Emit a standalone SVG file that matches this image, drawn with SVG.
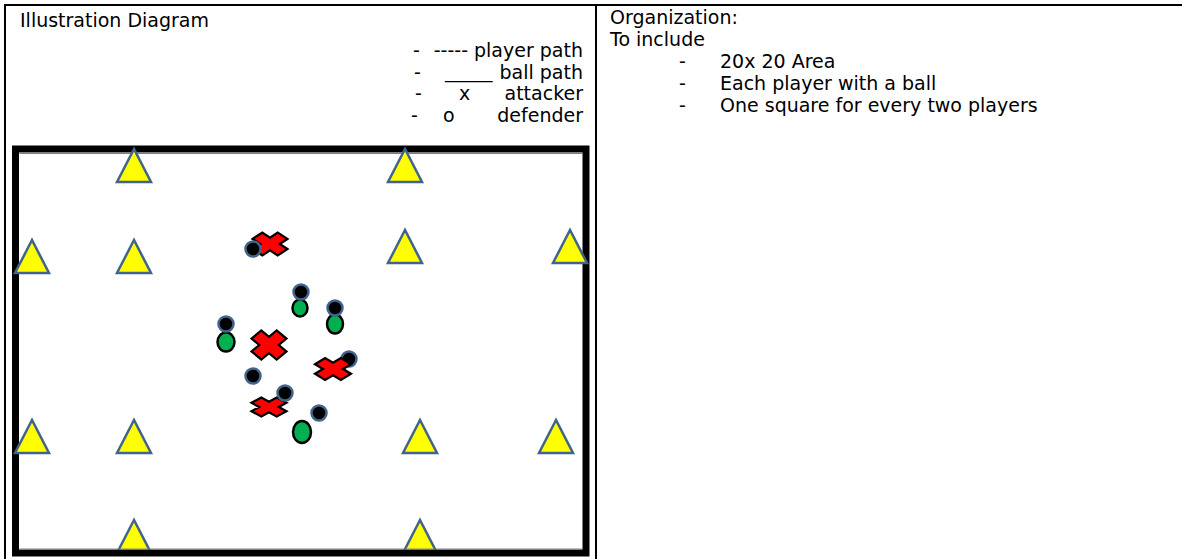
<svg xmlns="http://www.w3.org/2000/svg" width="1182" height="559" viewBox="0 0 1182 559">
<style>
text{font-family:"DejaVu Sans","Liberation Sans",sans-serif;font-size:19px;fill:#000}
.e{text-anchor:end}
.tri{fill:#FFFF00;stroke:#41648C;stroke-width:2.5;stroke-linejoin:miter}
.ball{fill:#000;stroke:#41648C;stroke-width:2.5}
.def{fill:#00B050;stroke:#000;stroke-width:2.5}
.x{fill:#FF0000;stroke:#000;stroke-width:2.2;stroke-linejoin:miter}
.grid{stroke:#000;stroke-width:2;fill:none}
</style>
<defs>
<polygon id="tr" points="0,0 -17,33 17,33"/>
</defs>
<rect width="1182" height="559" fill="#fff"/>
<g id="table">
<line class="grid" x1="5" y1="5" x2="1182" y2="5"/>
<line class="grid" x1="5" y1="4" x2="5" y2="559"/>
<line class="grid" x1="596" y1="4" x2="596" y2="559"/>
</g>
<g id="left-text">
<text x="20" y="27">Illustration Diagram</text>
<text x="413" y="57">-</text>
<text class="e" x="583" y="57">----- player path</text>
<text x="414" y="79">-</text>
<text x="445" y="78">_____</text>
<text class="e" x="583" y="79">ball path</text>
<text x="415" y="100">-</text>
<text x="459" y="100">x</text>
<text class="e" x="583" y="100">attacker</text>
<text x="411" y="122">-</text>
<text x="443" y="122">o</text>
<text class="e" x="583" y="122">defender</text>
</g>
<g id="right-text">
<text x="610" y="24">Organization:</text>
<text x="610" y="46">To include</text>
<text x="679" y="68">-</text>
<text x="720" y="68">20x 20 Area</text>
<text x="679" y="90">-</text>
<text x="720" y="90">Each player with a ball</text>
<text x="679" y="112">-</text>
<text x="720" y="112">One square for every two players</text>
</g>
<g id="cones-bottom">
<use href="#tr" class="tri" x="134" y="520"/>
<use href="#tr" class="tri" x="420" y="520"/>
</g>
<g id="field">
<rect x="15.5" y="149" width="570.5" height="404" fill="none" stroke="#000" stroke-width="7"/>
<path d="M19.5,153.5 H582 M19.5,549 H582" stroke="#808080" stroke-width="1" fill="none"/>
</g>
<g id="cones">
<use href="#tr" class="tri" x="134" y="149"/>
<use href="#tr" class="tri" x="405" y="149"/>
<use href="#tr" class="tri" x="32" y="240"/>
<use href="#tr" class="tri" x="134" y="240"/>
<use href="#tr" class="tri" x="405" y="230"/>
<use href="#tr" class="tri" x="570" y="230"/>
<use href="#tr" class="tri" x="32" y="420"/>
<use href="#tr" class="tri" x="134" y="420"/>
<use href="#tr" class="tri" x="420" y="420"/>
<use href="#tr" class="tri" x="556" y="420"/>
</g>
<g id="players">
<g id="attacker1"><polygon class="x" points="252.5,238.9 262.3,232.5 270,237.6 277.7,232.5 287.5,238.9 279.8,244 287.5,249.1 277.7,255.5 270,250.4 262.3,255.5 252.5,249.1 260.2,244"/></g>
<g id="ball1"><circle class="ball" cx="253" cy="249" r="7.5"/></g>
<g id="defender1"><ellipse class="def" cx="300" cy="308" rx="7.5" ry="8.5"/></g>
<g id="ball2"><circle class="ball" cx="301" cy="292" r="7.5"/></g>
<g id="defender2"><ellipse class="def" cx="335" cy="324" rx="8" ry="9.5"/></g>
<g id="ball3"><circle class="ball" cx="335" cy="308" r="7.5"/></g>
<g id="defender3"><ellipse class="def" cx="226" cy="342" rx="8.5" ry="9.5"/></g>
<g id="ball4"><circle class="ball" cx="226" cy="324" r="7.5"/></g>
<g id="attacker2"><polygon class="x" points="251.5,338.6 261.3,330.5 269,336.9 276.7,330.5 286.5,338.6 278.8,345 286.5,351.4 276.7,359.5 269,353.1 261.3,359.5 251.5,351.4 259.2,345"/></g>
<g id="ball5"><circle class="ball" cx="349" cy="359" r="7.5"/></g>
<g id="attacker3"><polygon class="x" points="315,364.2 325.1,358 333,362.8 340.9,358 351,364.2 343.1,369 351,373.8 340.9,380 333,375.2 325.1,380 315,373.8 322.9,369"/></g>
<g id="ball6"><circle class="ball" cx="253" cy="376" r="7.5"/></g>
<g id="attacker4"><polygon class="x" points="251.5,402.8 261.3,397.5 269,401.7 276.7,397.5 286.5,402.8 278.8,407 286.5,411.2 276.7,416.5 269,412.3 261.3,416.5 251.5,411.2 259.2,407"/></g>
<g id="ball7"><circle class="ball" cx="285" cy="393" r="7.5"/></g>
<g id="ball8"><circle class="ball" cx="319" cy="413" r="7.5"/></g>
<g id="defender4"><ellipse class="def" cx="302" cy="432" rx="9" ry="11"/></g>
</g>
<g id="connectors"/>
</svg>
